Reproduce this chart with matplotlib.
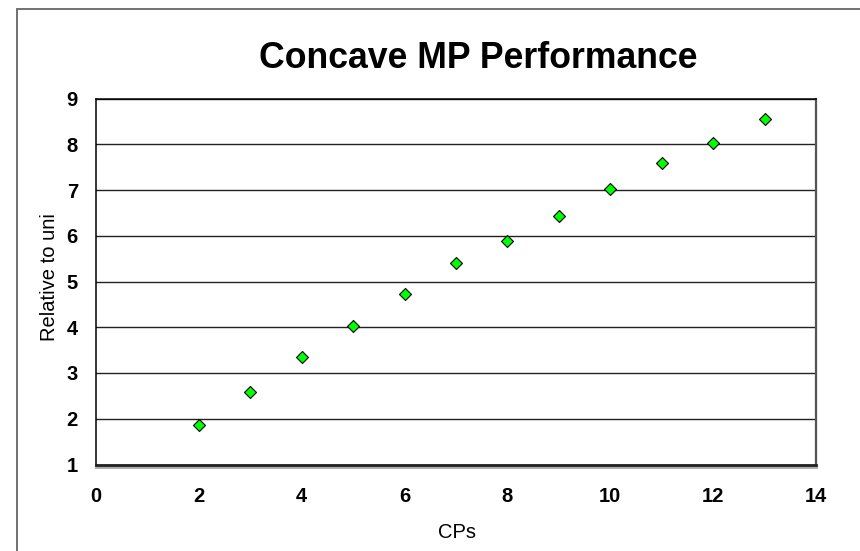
import matplotlib
matplotlib.use("Agg")
import matplotlib.pyplot as plt
import matplotlib.transforms as mtransforms
from matplotlib.patches import Rectangle

# data
cps = [2, 3, 4, 5, 6, 7, 8, 9, 10, 11, 12, 13]
relative = [1.87, 2.58, 3.36, 4.03, 4.73, 5.40, 5.88, 6.44, 7.03, 7.59, 8.03, 8.55]
x_ticks = [0, 2, 4, 6, 8, 10, 12, 14]
y_ticks = [1, 2, 3, 4, 5, 6, 7, 8, 9]

plt.rcParams["font.family"] = ["Liberation Sans", "DejaVu Sans"]

W, H = 860, 551
fig = plt.figure(figsize=(W / 100, H / 100), dpi=100)

# outer chart frame (left and top edges visible)
fig.patches.append(Rectangle((17 / W, -0.1), 1.2, 1 - 9 / H + 0.1,
                             transform=fig.transFigure, fill=False,
                             edgecolor="#666666", linewidth=1.3))

ax = fig.add_axes([96 / W, 1 - 464.5 / H, 720 / W, 366 / H])
ax.set_xlim(0, 14)
ax.set_ylim(1, 9)
ax.set_xticks(x_ticks)
ax.set_yticks(y_ticks)
ax.tick_params(length=0, labelsize=14.5)
ax.tick_params(axis="x", pad=16)
ax.tick_params(axis="y", pad=13)
for lab in ax.get_xticklabels() + ax.get_yticklabels():
    lab.set_fontweight("bold")

ax.grid(axis="y", color="#222222", linewidth=1)
ax.set_axisbelow(True)

for side in ["left", "top"]:
    ax.spines[side].set_color("black")
    ax.spines[side].set_linewidth(1.1)
ax.spines["right"].set_color("#555555")
ax.spines["right"].set_linewidth(1.6)
ax.spines["bottom"].set_color("#222222")
ax.spines["bottom"].set_linewidth(2)

# shadow under the plot area
shadow = mtransforms.offset_copy(ax.transAxes, fig=fig, x=0, y=-2.5, units="dots")
ax.plot([0, 1], [0, 0], transform=shadow, color="#aaaaaa", linewidth=2,
        clip_on=False, zorder=1)

ax.plot(cps, relative, linestyle="none", marker="D", markersize=6.5,
        markerfacecolor="#00ff00", markeredgecolor="black",
        markeredgewidth=0.8, clip_on=False, zorder=3)

ax.set_xlabel("CPs", fontsize=14.5)
ax.set_ylabel("Relative to uni", fontsize=14.5)
ax.xaxis.set_label_coords(0.501, -0.16)
ax.yaxis.set_label_coords(-0.051, 0.512)

fig.text(478 / W, 1 - 59 / H, "Concave MP Performance", fontsize=25.7,
         fontweight="bold", ha="center", va="center")

fig.savefig("out.png", dpi=100)
